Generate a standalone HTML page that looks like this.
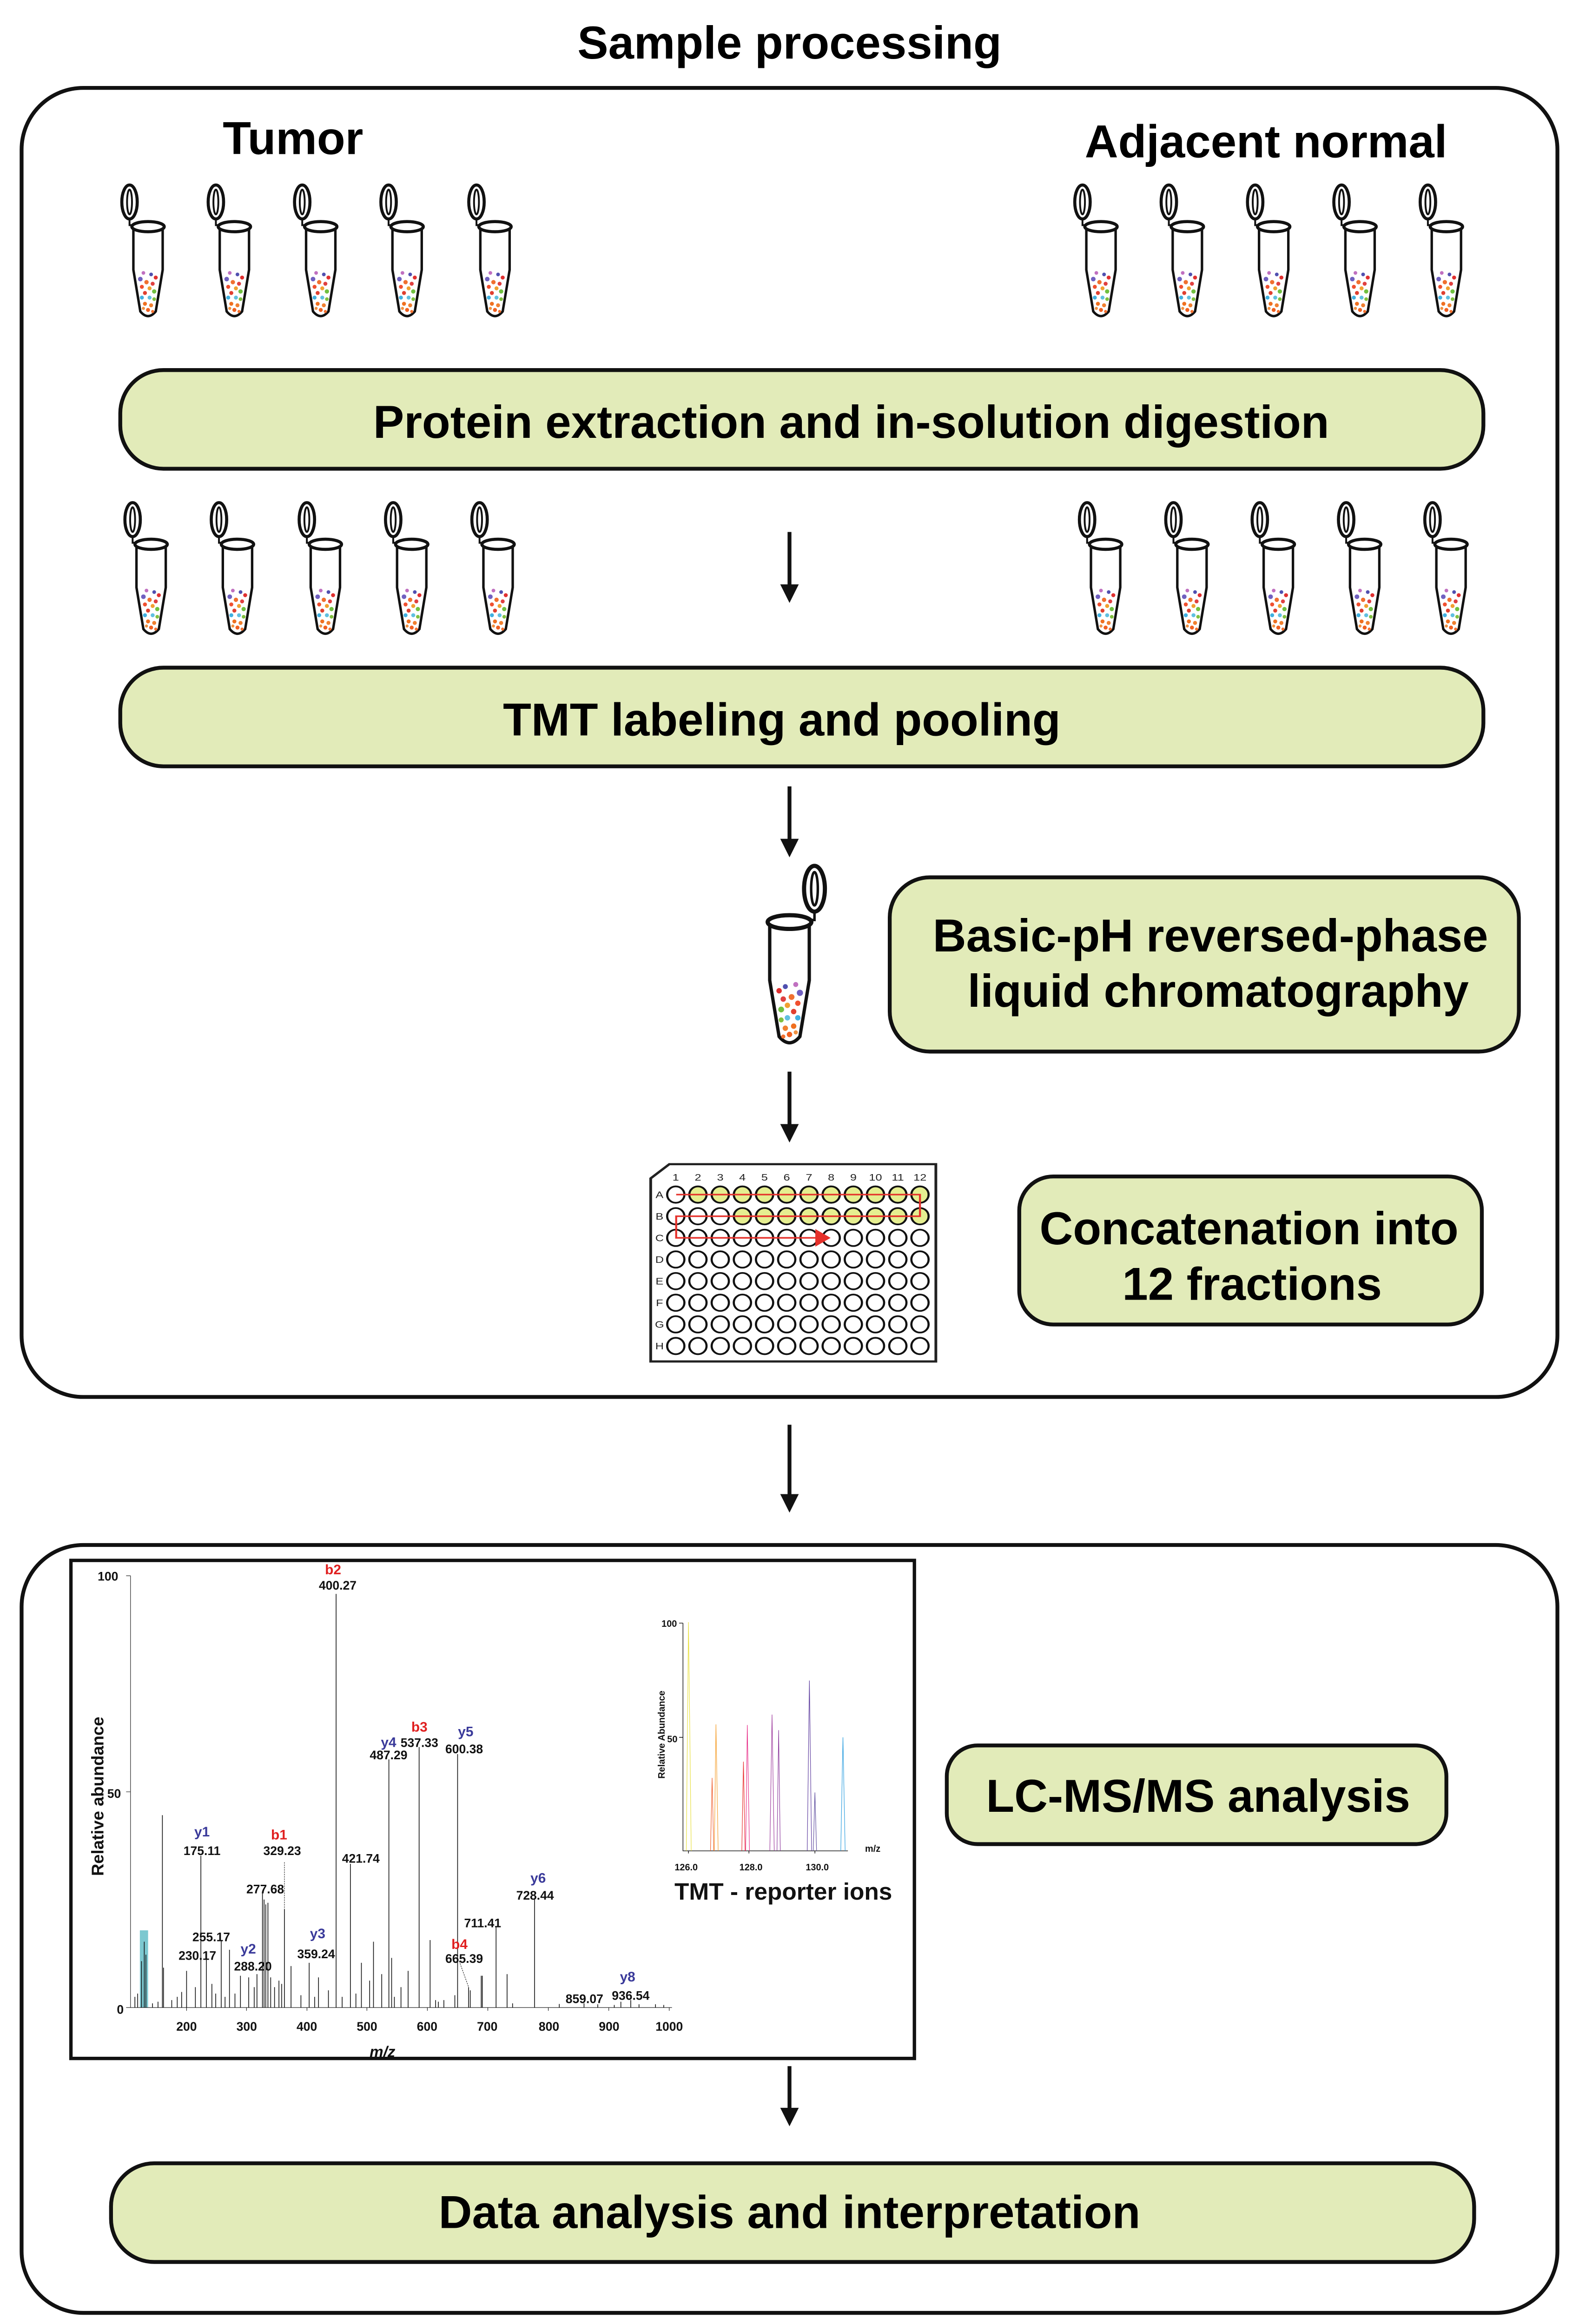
<!DOCTYPE html>
<html><head><meta charset="utf-8"><style>
html,body{margin:0;padding:0;background:#fff;width:3397px;height:5193px;overflow:hidden;position:relative;}
svg{display:block;position:absolute;left:0;top:0;}
text{font-family:"Liberation Sans",sans-serif;}
</style></head><body>
<svg width="3397" height="5193" viewBox="0 0 1024 1565.4" preserveAspectRatio="none" xmlns="http://www.w3.org/2000/svg">
<defs>
<symbol id="tube" overflow="visible">
  <ellipse cx="-12" cy="-16" rx="5" ry="11" fill="#fff" stroke="#111" stroke-width="2"/>
  <ellipse cx="-12" cy="-16" rx="1.6" ry="8" fill="none" stroke="#111" stroke-width="1.2"/>
  <path d="M-12,-5 L-12,-1 L-9,-1" fill="none" stroke="#111" stroke-width="1.2"/>
  <path d="M-9.5,0 L-9.5,28 L-5,55 Q0,61 5,55 L9.5,28 L9.5,0" fill="#fff" stroke="#111" stroke-width="1.6"/>
  <ellipse cx="0" cy="0" rx="10.5" ry="3.3" fill="#fff" stroke="#111" stroke-width="2"/>
  <g>
    <circle cx="-3" cy="30" r="1.2" fill="#c070c0"/><circle cx="2" cy="31" r="1.2" fill="#5050b0"/>
    <circle cx="5" cy="33" r="1.3" fill="#e03030"/><circle cx="-5" cy="34" r="1.5" fill="#7060c0"/>
    <circle cx="-1" cy="36" r="1.4" fill="#f07030"/><circle cx="3" cy="37" r="1.3" fill="#e04040"/>
    <circle cx="-4" cy="39" r="1.3" fill="#f05030"/><circle cx="1" cy="40" r="1.3" fill="#f0a030"/>
    <circle cx="4" cy="42" r="1.4" fill="#70c040"/><circle cx="-2" cy="43" r="1.3" fill="#e04030"/>
    <circle cx="-4" cy="46" r="1.3" fill="#40b0e0"/><circle cx="1" cy="46" r="1.3" fill="#60c0e0"/>
    <circle cx="4" cy="47" r="1.2" fill="#80c040"/><circle cx="-2" cy="50" r="1.3" fill="#f07020"/>
    <circle cx="2" cy="51" r="1.3" fill="#f08030"/><circle cx="0" cy="54" r="1.3" fill="#f06020"/>
    <circle cx="-3" cy="53" r="1" fill="#f09040"/><circle cx="3" cy="55" r="1" fill="#f07030"/>
  </g>
</symbol>
<g id="row"><ellipse cx="168" cy="0" rx="44" ry="53"/><ellipse cx="281" cy="0" rx="44" ry="53"/><ellipse cx="395" cy="0" rx="44" ry="53"/><ellipse cx="508" cy="0" rx="44" ry="53"/><ellipse cx="621" cy="0" rx="44" ry="53"/><ellipse cx="734" cy="0" rx="44" ry="53"/><ellipse cx="848" cy="0" rx="44" ry="53"/><ellipse cx="961" cy="0" rx="44" ry="53"/><ellipse cx="1074" cy="0" rx="44" ry="53"/><ellipse cx="1187" cy="0" rx="44" ry="53"/><ellipse cx="1301" cy="0" rx="44" ry="53"/><ellipse cx="1414" cy="0" rx="44" ry="53"/></g>
</defs>

<text x="512" y="38" font-size="30" font-weight="bold" text-anchor="middle">Sample processing</text>
<rect x="14" y="57" width="996" height="849" rx="40" fill="none" stroke="#111" stroke-width="2.5"/>
<text x="190" y="100" font-size="30" font-weight="bold" text-anchor="middle">Tumor</text>
<text x="821" y="102" font-size="30" font-weight="bold" text-anchor="middle">Adjacent normal</text>

<use href="#tube" x="96" y="147"/><use href="#tube" x="152" y="147"/><use href="#tube" x="208" y="147"/><use href="#tube" x="264" y="147"/><use href="#tube" x="321" y="147"/>
<use href="#tube" x="714" y="147"/><use href="#tube" x="770" y="147"/><use href="#tube" x="826" y="147"/><use href="#tube" x="882" y="147"/><use href="#tube" x="938" y="147"/>

<rect x="78" y="240" width="884" height="64" rx="28" fill="#e2ebb9" stroke="#111" stroke-width="2.5"/>
<text x="552" y="284" font-size="30" font-weight="bold" text-anchor="middle">Protein extraction and in-solution digestion</text>

<use href="#tube" x="98" y="353"/><use href="#tube" x="154" y="353"/><use href="#tube" x="211" y="353"/><use href="#tube" x="267" y="353"/><use href="#tube" x="323" y="353"/>
<use href="#tube" x="717" y="353"/><use href="#tube" x="773" y="353"/><use href="#tube" x="829" y="353"/><use href="#tube" x="885" y="353"/><use href="#tube" x="941" y="353"/>

<g stroke="#111" stroke-width="2.5" fill="#111">
<line x1="512" y1="345" x2="512" y2="380"/><polygon points="506,379 518,379 512,391" stroke="none"/>
<line x1="512" y1="510" x2="512" y2="545"/><polygon points="506,544 518,544 512,556" stroke="none"/>
<line x1="512" y1="695" x2="512" y2="730"/><polygon points="506,729 518,729 512,741" stroke="none"/>
<line x1="512" y1="924" x2="512" y2="970"/><polygon points="506,969 518,969 512,981" stroke="none"/>
<line x1="512" y1="1340" x2="512" y2="1368"/><polygon points="506,1367 518,1367 512,1379" stroke="none"/>
</g>

<rect x="78" y="433" width="884" height="64" rx="28" fill="#e2ebb9" stroke="#111" stroke-width="2.5"/>
<text x="507" y="477" font-size="30" font-weight="bold" text-anchor="middle">TMT labeling and pooling</text>

<use href="#tube" transform="translate(512,598) scale(-1.35,1.35)"/>

<rect x="577" y="569" width="408" height="113" rx="26" fill="#e2ebb9" stroke="#111" stroke-width="2.5"/>
<text x="785" y="617" font-size="30" font-weight="bold" text-anchor="middle">Basic-pH reversed-phase</text>
<text x="790" y="653" font-size="30" font-weight="bold" text-anchor="middle">liquid chromatography</text>

<!-- plate -->
<g transform="matrix(0.1271,0,0,0.1002,416.9,749.2)">
  <path d="M40,150 L135,58 L1495,58 L1495,1335 L40,1335 Z" fill="#fff" stroke="#222" stroke-width="14"/>
  <g font-size="60" text-anchor="middle" fill="#222">
    <text x="168" y="165">1</text><text x="281" y="165">2</text><text x="395" y="165">3</text><text x="508" y="165">4</text><text x="621" y="165">5</text><text x="734" y="165">6</text><text x="848" y="165">7</text><text x="961" y="165">8</text><text x="1074" y="165">9</text><text x="1187" y="165">10</text><text x="1301" y="165">11</text><text x="1414" y="165">12</text>
    <text x="85" y="277">A</text><text x="85" y="417">B</text><text x="85" y="557">C</text><text x="85" y="697">D</text><text x="85" y="837">E</text><text x="85" y="977">F</text><text x="85" y="1117">G</text><text x="85" y="1257">H</text>
  </g>
  <g stroke="#111" stroke-width="11" fill="#fff">
    <use href="#row" y="535"/><use href="#row" y="675"/><use href="#row" y="815"/><use href="#row" y="955"/><use href="#row" y="1095"/><use href="#row" y="1235"/>
  </g>
  <g stroke="#111" stroke-width="11" fill="#e5ee90">
    <ellipse cx="168" cy="255" rx="44" ry="53" fill="#fff"/><ellipse cx="281" cy="255" rx="44" ry="53"/><ellipse cx="395" cy="255" rx="44" ry="53"/><ellipse cx="508" cy="255" rx="44" ry="53"/><ellipse cx="621" cy="255" rx="44" ry="53"/><ellipse cx="734" cy="255" rx="44" ry="53"/><ellipse cx="848" cy="255" rx="44" ry="53"/><ellipse cx="961" cy="255" rx="44" ry="53"/><ellipse cx="1074" cy="255" rx="44" ry="53"/><ellipse cx="1187" cy="255" rx="44" ry="53"/><ellipse cx="1301" cy="255" rx="44" ry="53"/><ellipse cx="1414" cy="255" rx="44" ry="53"/>
    <ellipse cx="168" cy="395" rx="44" ry="53" fill="#fff"/><ellipse cx="281" cy="395" rx="44" ry="53" fill="#fff"/><ellipse cx="395" cy="395" rx="44" ry="53" fill="#fff"/><ellipse cx="508" cy="395" rx="44" ry="53"/><ellipse cx="621" cy="395" rx="44" ry="53"/><ellipse cx="734" cy="395" rx="44" ry="53"/><ellipse cx="848" cy="395" rx="44" ry="53"/><ellipse cx="961" cy="395" rx="44" ry="53"/><ellipse cx="1074" cy="395" rx="44" ry="53"/><ellipse cx="1187" cy="395" rx="44" ry="53"/><ellipse cx="1301" cy="395" rx="44" ry="53"/><ellipse cx="1414" cy="395" rx="44" ry="53"/>
  </g>
  <path d="M170,255 L1414,255 L1414,395 L170,395 L170,535 L890,535" fill="none" stroke="#e5302a" stroke-width="10"/>
  <polygon points="880,478 880,592 958,535" fill="#e5302a"/>
</g>

<rect x="661" y="763" width="300" height="96" rx="22" fill="#e2ebb9" stroke="#111" stroke-width="2.5"/>
<text x="810" y="807" font-size="30" font-weight="bold" text-anchor="middle">Concatenation into</text>
<text x="812" y="843" font-size="30" font-weight="bold" text-anchor="middle">12 fractions</text>

<rect x="14" y="1002" width="996" height="498" rx="40" fill="none" stroke="#111" stroke-width="2.5"/>

<!-- spectrum -->
<rect x="46" y="1012" width="547" height="323" fill="#fff" stroke="#111" stroke-width="2.2"/>
<g transform="matrix(0.3565,0,0,0.2104,41.86,1008.9)" stroke="#111" stroke-width="1.1" fill="none">
  <rect x="137" y="1155" width="15" height="238" fill="#7cc8d0" stroke="none"/>
  <path vector-effect="non-scaling-stroke" d="M120,62 L120,1393 L1105,1393 M112,62 L120,62 M112,728 L120,728 M112,1393 L120,1393
  M222,1393 L222,1403 M331,1393 L331,1403 M441,1393 L441,1403 M550,1393 L550,1403 M660,1393 L660,1403 M770,1393 L770,1403 M880,1393 L880,1403 M990,1393 L990,1403 M1100,1393 L1100,1403"/>
  <path vector-effect="non-scaling-stroke" stroke-width="1.6" d="M145,1393 L145,1190 M148,1393 L148,1230 M140,1393 L140,1250 M178,1393 L178,800 M180,1393 L180,1270 M248,1393 L248,925 M258,1393 L258,1245 M285,1393 L285,1185 M300,1393 L300,1215 M222,1393 L222,1280 M238,1393 L238,1330 M268,1393 L268,1320 M320,1393 L320,1295 M335,1393 L335,1300 M350,1393 L350,1290 M360,1393 L360,1040 M363,1393 L363,1060 M366,1393 L366,1075 M370,1393 L370,1070 M375,1393 L375,1300 M390,1393 L390,1310 M400,1393 L400,1090 M412,1393 L412,1265 M445,1393 L445,1255 M462,1393 L462,1300 M480,1393 L480,1340 M494,1393 L494,118 M520,1393 L520,950 M540,1393 L540,1255 M555,1393 L555,1310 M562,1393 L562,1190 M577,1393 L577,1290 M590,1393 L590,628 M595,1393 L595,1240 M612,1393 L612,1330 M625,1393 L625,1280 M645,1393 L645,590 M665,1393 L665,1185 M675,1393 L675,1370 M710,1393 L710,1355 M715,1393 L715,612 M735,1393 L735,1330 M738,1393 L738,1340 M758,1393 L758,1295 M760,1393 L760,1295 M785,1393 L785,1145 M805,1393 L805,1290 M815,1393 L815,1380 M855,1393 L855,1060 M900,1393 L900,1382 M945,1393 L945,1380 M970,1393 L970,1383 M1000,1393 L1000,1385 M1012,1393 L1012,1375 M1030,1393 L1030,1370 M1045,1393 L1045,1383 M1075,1393 L1075,1383 M1090,1393 L1090,1385
  M128,1393 L128,1360 M133,1393 L133,1350 M160,1393 L160,1380 M170,1393 L170,1375 M195,1393 L195,1370 M205,1393 L205,1360 M213,1393 L213,1345 M275,1393 L275,1350 M292,1393 L292,1360 M310,1393 L310,1350 M345,1393 L345,1330 M382,1393 L382,1330 M395,1393 L395,1320 M430,1393 L430,1355 M455,1393 L455,1360 M505,1393 L505,1360 M530,1393 L530,1350 M600,1393 L600,1360 M680,1393 L680,1375 M690,1393 L690,1370"/>
  <path vector-effect="non-scaling-stroke" stroke-dasharray="3,2" d="M400,945 L400,1090 M718,1250 L735,1330"/>
  <path vector-effect="non-scaling-stroke" stroke-width="1.4" d="M1125,208 L1125,910 L1425,910 M1118,208 L1125,208 M1118,560 L1125,560 M1135,910 L1135,918 M1245,910 L1245,918 M1365,910 L1365,918"/>
  <g>
    <path vector-effect="non-scaling-stroke" stroke-width="1.2" stroke="#e8e040" d="M1131,910 L1135,205 L1140,910"/>
    <path vector-effect="non-scaling-stroke" stroke-width="1.2" stroke="#f06030" d="M1175,910 L1178,685 L1181,910"/>
    <path vector-effect="non-scaling-stroke" stroke-width="1.2" stroke="#f5a030" d="M1182,910 L1185,520 L1189,910"/>
    <path vector-effect="non-scaling-stroke" stroke-width="1.2" stroke="#e83030" d="M1232,910 L1235,635 L1238,910"/>
    <path vector-effect="non-scaling-stroke" stroke-width="1.2" stroke="#e8308a" d="M1239,910 L1242,522 L1246,910"/>
    <path vector-effect="non-scaling-stroke" stroke-width="1.2" stroke="#a040a0" d="M1283,910 L1287,490 L1291,910"/>
    <path vector-effect="non-scaling-stroke" stroke-width="1.2" stroke="#9040a0" d="M1296,910 L1299,538 L1302,910"/>
    <path vector-effect="non-scaling-stroke" stroke-width="1.2" stroke="#6040a0" d="M1351,910 L1355,385 L1359,910"/>
    <path vector-effect="non-scaling-stroke" stroke-width="1.2" stroke="#6050a0" d="M1362,910 L1365,730 L1368,910"/>
    <path vector-effect="non-scaling-stroke" stroke-width="1.2" stroke="#30a0e0" d="M1412,910 L1416,560 L1420,910"/>
  </g>
</g>
<g font-size="8" font-weight="bold" fill="#111" text-anchor="middle">
  <text x="70" y="1025">100</text><text x="74" y="1166">50</text><text x="78" y="1306">0</text>
  <text x="121" y="1317">200</text><text x="160" y="1317">300</text><text x="199" y="1317">400</text><text x="238" y="1317">500</text><text x="277" y="1317">600</text><text x="316" y="1317">700</text><text x="356" y="1317">800</text><text x="395" y="1317">900</text><text x="434" y="1317">1000</text>
  <text x="248" y="1334" font-size="10" font-style="italic">m/z</text>
  <text transform="translate(67,1165) rotate(-90)" font-size="11">Relative abundance</text>
  <g fill="#e02020" font-size="9"><text x="216" y="1021">b2</text><text x="181" y="1193">b1</text><text x="272" y="1123">b3</text><text x="298" y="1264">b4</text></g>
  <g fill="#3a3a9a" font-size="9"><text x="131" y="1191">y1</text><text x="161" y="1267">y2</text><text x="206" y="1257">y3</text><text x="252" y="1133">y4</text><text x="302" y="1126">y5</text><text x="349" y="1221">y6</text><text x="407" y="1285">y8</text></g>
  <text x="219" y="1031">400.27</text><text x="131" y="1203">175.11</text><text x="183" y="1203">329.23</text><text x="172" y="1228">277.68</text><text x="234" y="1208">421.74</text><text x="252" y="1141">487.29</text><text x="272" y="1133">537.33</text><text x="301" y="1137">600.38</text><text x="347" y="1232">728.44</text><text x="313" y="1250">711.41</text><text x="301" y="1273">665.39</text><text x="205" y="1270">359.24</text><text x="164" y="1278">288.20</text><text x="137" y="1259">255.17</text><text x="128" y="1271">230.17</text><text x="379" y="1299">859.07</text><text x="409" y="1297">936.54</text>
  <text x="434" y="1055" font-size="6">100</text><text x="436" y="1130" font-size="6">50</text>
  <text x="445" y="1213" font-size="6">126.0</text><text x="487" y="1213" font-size="6">128.0</text><text x="530" y="1213" font-size="6">130.0</text>
  <text x="566" y="1201" font-size="6">m/z</text>
  <text transform="translate(431,1125) rotate(-90)" font-size="6">Relative Abundance</text>
  <text x="508" y="1232" font-size="15.5">TMT - reporter ions</text>
</g>

<rect x="614" y="1132" width="324" height="64" rx="20" fill="#e2ebb9" stroke="#111" stroke-width="2.5"/>
<text x="777" y="1175" font-size="30" font-weight="bold" text-anchor="middle">LC-MS/MS analysis</text>

<rect x="72" y="1403" width="884" height="64" rx="28" fill="#e2ebb9" stroke="#111" stroke-width="2.5"/>
<text x="512" y="1445" font-size="30" font-weight="bold" text-anchor="middle">Data analysis and interpretation</text>

<text x="512" y="1550" font-size="30" font-weight="bold" text-anchor="middle">Mass spectrometry and data analysis</text>
</svg>
</body></html>
